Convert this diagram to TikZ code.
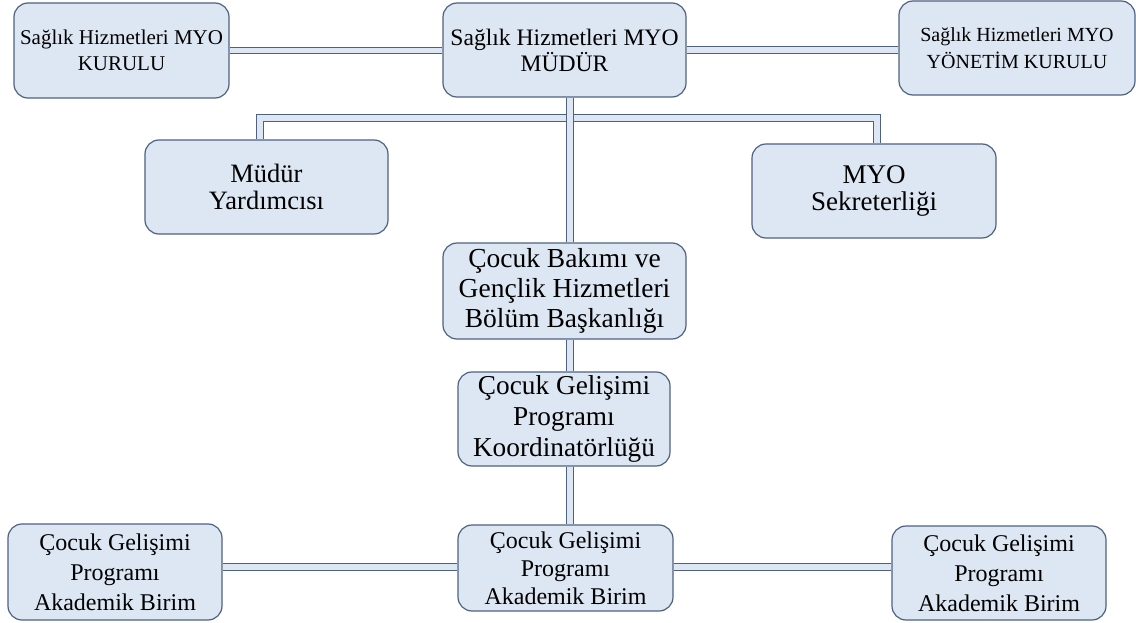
\documentclass[tikz,border=0pt]{standalone}
\usepackage{fontspec}
\setmainfont{Liberation Serif}
\usetikzlibrary{backgrounds}
\definecolor{boxfill}{RGB}{221,231,243}
\definecolor{boxline}{RGB}{78,98,128}
\begin{document}
\begin{tikzpicture}[x=1pt,y=-1pt,
  box/.style={draw=boxline, line width=1.2pt, fill=boxfill, rounded corners=14pt, align=center, inner sep=0pt},
  conn/.style={draw=boxline, line width=1.1pt, double=boxfill, double distance=5.5pt}]
\useasboundingbox (0,0) rectangle (1136,623);
\node[box, minimum width=215pt, minimum height=95pt, font=\fontsize{21}{26}\selectfont] (kurulu) at (121.5,50.5) {Sağlık Hizmetleri MYO\\KURULU};
\node[box, minimum width=243pt, minimum height=94pt, font=\fontsize{23.6}{26}\selectfont] (mudur) at (564.5,50) {Sağlık Hizmetleri MYO\\MÜDÜR};
\node[box, minimum width=236pt, minimum height=94pt, font=\fontsize{20}{27}\selectfont] (yonetim) at (1017,48) {Sağlık Hizmetleri MYO\\YÖNETİM KURULU};
\node[box, minimum width=243pt, minimum height=94pt, font=\fontsize{26.5}{27}\selectfont] (yard) at (266.5,187) {Müdür\\Yardımcısı};
\node[box, minimum width=244pt, minimum height=94pt, font=\fontsize{27}{27}\selectfont] (sekr) at (874,191) {MYO\\Sekreterliği};
\node[box, minimum width=243pt, minimum height=96pt, font=\fontsize{27.5}{30}\selectfont] (bolum) at (564.5,291) {Çocuk Bakımı ve\\Gençlik Hizmetleri\\Bölüm Başkanlığı};
\node[box, minimum width=212pt, minimum height=94pt, font=\fontsize{27.3}{31}\selectfont] (koord) at (564,419) {Çocuk Gelişimi\\Programı\\Koordinatörlüğü};
\node[box, minimum width=214pt, minimum height=96pt, font=\fontsize{24}{30}\selectfont] (bl) at (115,572) {Çocuk Gelişimi\\Programı\\Akademik Birim};
\node[box, minimum width=215pt, minimum height=86pt, font=\fontsize{24}{28}\selectfont] (bm) at (565.5,568) {Çocuk Gelişimi\\Programı\\Akademik Birim};
\node[box, minimum width=214pt, minimum height=94pt, font=\fontsize{24}{30}\selectfont] (br) at (999,573) {Çocuk Gelişimi\\Programı\\Akademik Birim};
\coordinate (vx) at (570,0);
\coordinate (bus) at (0,118);
\coordinate (lx) at (260,0);
\coordinate (rx) at (877,0);
\coordinate (hy) at (0,567);
\begin{scope}[on background layer]
\fill[white] (0,0) rectangle (1136,623);
\draw[conn] (kurulu.east) -- (kurulu.east -| mudur.west);
\draw[conn] (mudur.east) -- (mudur.east -| yonetim.west);
\draw[conn] (yard.north -| lx) -- (lx |- bus) -- (rx |- bus) -- (sekr.north -| rx);
\draw[conn] (mudur.south -| vx) -- (bolum.north -| vx);
\draw[conn] (bolum.south -| vx) -- (koord.north -| vx);
\draw[conn] (koord.south -| vx) -- (bm.north -| vx);
\draw[conn] (bl.east |- hy) -- (bm.west |- hy);
\draw[conn] (bm.east |- hy) -- (br.west |- hy);
\end{scope}
\end{tikzpicture}
\end{document}
